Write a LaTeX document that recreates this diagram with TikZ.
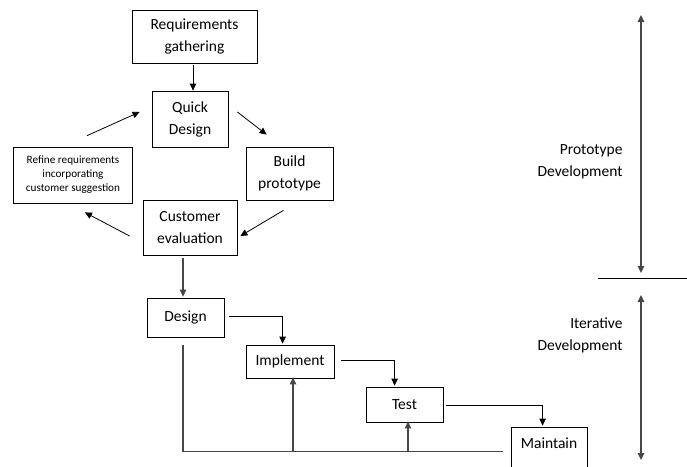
\documentclass[tikz,border=0pt]{standalone}
\usepackage{fontspec}
\setmainfont{Carlito}
\usetikzlibrary{calc, arrows.meta}
\colorlet{GreyLine}{black!72}
\tikzset{
    proc box/.style={draw=black, line width=0.8pt, align=center, inner sep=0pt,
        font=\fontsize{15.5}{22}\selectfont},
    flow arrow/.style={-{Triangle[length=7pt, width=6.5pt]}, line width=0.8pt},
    grey arrow/.style={flow arrow, line width=1.3pt, draw=GreyLine, fill=GreyLine},
    phase arrow/.style={{Triangle[length=7pt, width=6.5pt]}-{Triangle[length=7pt, width=6.5pt]},
        line width=1.3pt, draw=GreyLine}
}

\begin{document}
\begin{tikzpicture}[x=1pt, y=-1pt]

    \useasboundingbox (0,0) rectangle (687,466);

    % Cajas de la fase de prototipo
    \node [proc box, minimum width=125pt, minimum height=53pt] (ReqGather) at (194.5,36.5) {Requirements\\gathering};
    \node [proc box, minimum width=76pt, minimum height=56pt] (QuickDesign) at (190,119) {Quick\\Design};
    \node [proc box, minimum width=119pt, minimum height=56pt,
           font=\fontsize{11.2}{14}\selectfont] (Refine) at (73,175) {Refine requirements\\incorporating\\customer suggestion};
    \node [proc box, minimum width=87pt, minimum height=53pt] (BuildProto) at (289.5,173.5) {Build\\prototype};
    \node [proc box, minimum width=94pt, minimum height=55pt] (CustEval) at (190,227.5) {Customer\\evaluation};

    % Cajas de la fase iterativa
    \node [proc box, minimum width=77pt, minimum height=39pt] (Design) at (185.5,317.5) {Design};
    \node [proc box, minimum width=88pt, minimum height=33pt] (Implement) at (290,361.5) {Implement};
    \node [proc box, minimum width=77pt, minimum height=35pt] (Test) at (404.5,404.5) {Test};
    \node [proc box, minimum width=76pt, minimum height=44pt, text height=11pt, text depth=12pt] (Maintain) at (549,449) {Maintain};

    % Ciclo del prototipo
    \draw [flow arrow] ($(ReqGather.south)+(-1.5,2)$) -- ($(QuickDesign.north)+(3,0)$);
    \draw [flow arrow] ($(QuickDesign.east)+(9,-7)$) -- ($(BuildProto.north west)+(21,-12)$);
    \draw [flow arrow] ($(BuildProto.south east)+(-50,10)$) -- ($(CustEval.east)+(3,8.5)$);
    \draw [flow arrow] ($(CustEval.west)+(-13,8.5)$) -- ($(Refine.south east)+(-48,9)$);
    \draw [flow arrow] ($(Refine.north west)+(74,-11)$) -- ($(QuickDesign.west)+(-12,-7)$);

    % Cascada
    \draw [grey arrow] ($(CustEval.south)+(-7,3)$) -- ($(Design.north)+(-2.5,-1)$);
    \draw [flow arrow] ($(Design.east)+(5,-1.5)$) -| ($(Implement.north west)+(37,-1)$);
    \draw [flow arrow] ($(Implement.east)+(7,-1.5)$) -| ($(Test.north west)+(29,-1)$);
    \draw [flow arrow] ($(Test.east)+(3,0.5)$) -| ($(Maintain.north west)+(32,-1)$);

    % Retroalimentacion
    \coordinate (FbEnd) at ($(Maintain.north west)+(-8,25)$);
    \draw [line width=1.1pt, draw=GreyLine] ($(Design.south)+(-2.5,8)$) |- (FbEnd);
    \draw [grey arrow, line width=1.1pt] (Implement.south |- FbEnd) ++(3,0) -- ($(Implement.south)+(3,-1)$);
    \draw [grey arrow, line width=1.1pt] (Test.south |- FbEnd) ++(3.5,0) -- ($(Test.south)+(3.5,-1)$);

    % Fases
    \coordinate (ProtoTop) at (641,15);
    \coordinate (ProtoBot) at (641,273);
    \coordinate (IterTop) at (641,295);
    \coordinate (IterBot) at (641,460);
    \draw [phase arrow] (ProtoTop) -- (ProtoBot);
    \draw [phase arrow] (IterTop) -- (IterBot);
    \draw [line width=0.9pt] (598,278) -- (687,278);
    \node [align=right, anchor=east, font=\fontsize{15.5}{22}\selectfont] (ProtoLabel) at (626,162) {Prototype\\Development};
    \node [align=right, anchor=east, font=\fontsize{15.5}{22}\selectfont] (IterLabel) at (626,335) {Iterative\\Development};

\end{tikzpicture}
\end{document}
